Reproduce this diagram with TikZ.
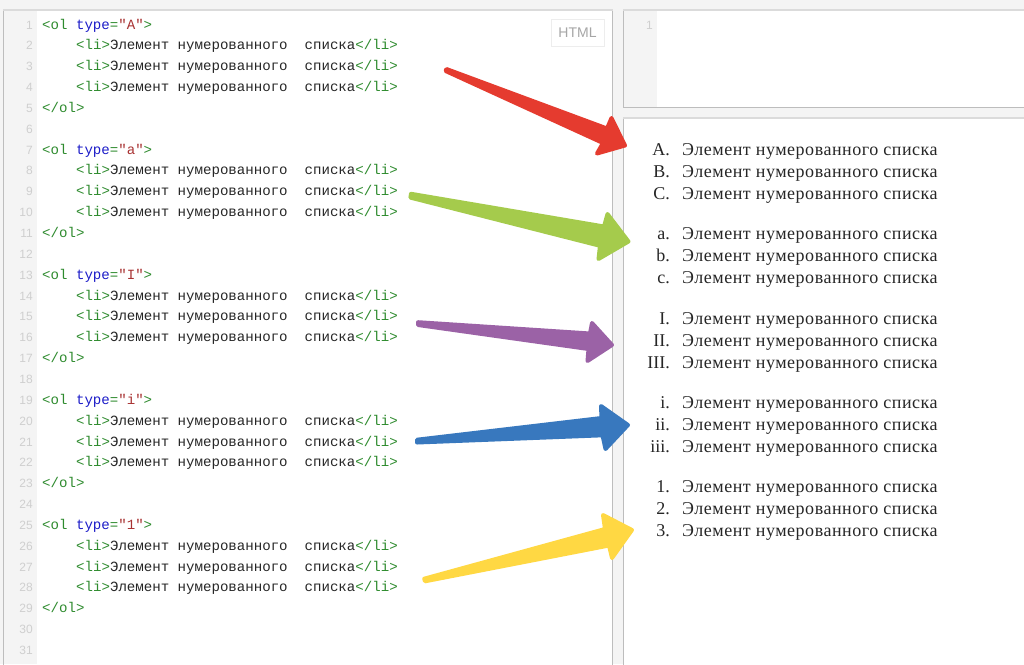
\documentclass[tikz,border=0pt]{standalone}
\usepackage{fontspec}
\setmainfont{Liberation Serif}
\newfontfamily\codefont{Liberation Mono}
\newfontfamily\uifont{Liberation Sans}
\newfontfamily\listfont[LetterSpace=2.9]{Liberation Serif}
\definecolor{tagcol}{HTML}{2E8B2E}
\definecolor{attrcol}{HTML}{1C1CC8}
\definecolor{valcol}{HTML}{A83232}
\definecolor{panelbg}{HTML}{F4F4F4}
\definecolor{edgecol}{HTML}{BDBDBD}
\definecolor{numcol}{HTML}{CFCFCF}
\definecolor{redarrow}{HTML}{E53B2F}
\definecolor{greenarrow}{HTML}{A5CB4C}
\definecolor{purplearrow}{HTML}{9B62A6}
\definecolor{bluearrow}{HTML}{3878BE}
\definecolor{yellowarrow}{HTML}{FFD843}
\newcommand{\tagtx}[1]{\textcolor{tagcol}{#1}}
\begin{document}
\begin{tikzpicture}[x=1pt,y=-1pt,
	code/.style={anchor=base west, inner sep=0pt, text=black!85, font=\codefont\fontsize{14.1}{17}\selectfont},
	linenum/.style={anchor=base east, inner sep=0pt, text=numcol, font=\uifont\fontsize{12}{14}\selectfont},
	marker/.style={anchor=base east, inner sep=0pt, text=black!85, font=\fontsize{18}{21}\selectfont},
	entry/.style={anchor=base west, inner sep=0pt, text=black!85, font=\listfont\fontsize{18}{21}\selectfont},
	panel/.style={fill=white, draw=edgecol, line width=1pt},
	badge/.style={draw=black!7, fill=white, text=black!35, font=\uifont\fontsize{14}{17}\selectfont, minimum width=53pt, minimum height=27pt, inner sep=0pt},
	bigarrow/.style={fill=#1, draw=#1, line width=4pt, line join=round,
		preaction={fill=black!40, draw=black!40, transform canvas={shift={(0.6pt,-0.8pt)}}}}]
	\useasboundingbox (0,0) rectangle (1024,664);
	\fill[panelbg] (0,0) rectangle (1024,664);
	% panes
	\draw[panel] (3.5,10.5) rectangle (612.5,670);
	\draw[panel] (623.5,10.5) rectangle (1030,107.5);
	\draw[panel] (623.5,118.5) rectangle (1030,670);
	\draw[black!14, line width=2pt] (3,10) -- (613,10);
	\draw[black!14, line width=2pt] (623,10) -- (1024,10);
	\draw[black!14, line width=2pt] (623,118) -- (1024,118);
	\fill[panelbg] (4,11) rectangle (37,664);
	\fill[panelbg] (624,11) rectangle (657,107);
	\node[badge] (htmltag) at (577.5,32.5) {HTML};
	\node[linenum] (toplinenum) at (653,29) {1};
	% line numbers
	\foreach \n in {1,...,31}
		\node[linenum] (num\n) at (33,{8.15+20.85*\n}) {\n};
	% source code
	\foreach \first/\kind in {0/A,6/a,12/I,18/i,24/1}{
		\node[code] (open\kind) at (42,{8.15+20.85*(\first+1)})
			{\tagtx{<ol} \textcolor{attrcol}{type}\tagtx{=}\textcolor{valcol}{"\kind"}\tagtx{>}};
		\foreach \k in {2,3,4}
			\node[code] (item\kind\k) at (76,{8.15+20.85*(\first+\k)})
				{\tagtx{<li>}Элемент нумерованного\ \ списка\tagtx{</li>}};
		\node[code] (close\kind) at (42,{8.15+20.85*(\first+5)}) {\tagtx{</ol>}};
	}
	% rendered lists
	\foreach \top/\ma/\mb/\mc in {155/A/B/C,239/a/b/c,324/I/II/III,408/i/ii/iii,492/1/2/3}{
		\foreach \off/\m in {0/\ma,22/\mb,44/\mc}{
			\node[marker] (mark\top\off) at (670,{\top+\off}) {\m.};
			\node[entry] (entry\top\off) at (682,{\top+\off}) {Элемент нумерованного списка};
		}
	}
	% arrows
	\draw[bigarrow=redarrow] (446.4,69) -- (607,128.5) -- (611.5,118) -- (625,145.5) -- (597,153.5) -- (603,143) -- (445.6,71) -- cycle;
	\draw[bigarrow=greenarrow] (411,193.8) -- (604,226.5) -- (607.5,214) -- (628.5,241.5) -- (598.5,259) -- (600,245.8) -- (410.4,197.6) -- cycle;
	\draw[bigarrow=purplearrow] (418,322.2) -- (590,333.5) -- (592,323) -- (612,345) -- (587.5,361) -- (588.5,349) -- (418,325) -- cycle;
	\draw[bigarrow=bluearrow] (417,439.7) -- (601.5,418) -- (601,406) -- (628,425) -- (605.5,449) -- (602.5,435.3) -- (417,442.5) -- cycle;
	\draw[bigarrow=yellowarrow] (424.2,578.7) -- (605,529) -- (603,515) -- (632,530) -- (612,558) -- (609,545.5) -- (425,581.3) -- cycle;
\end{tikzpicture}
\end{document}
